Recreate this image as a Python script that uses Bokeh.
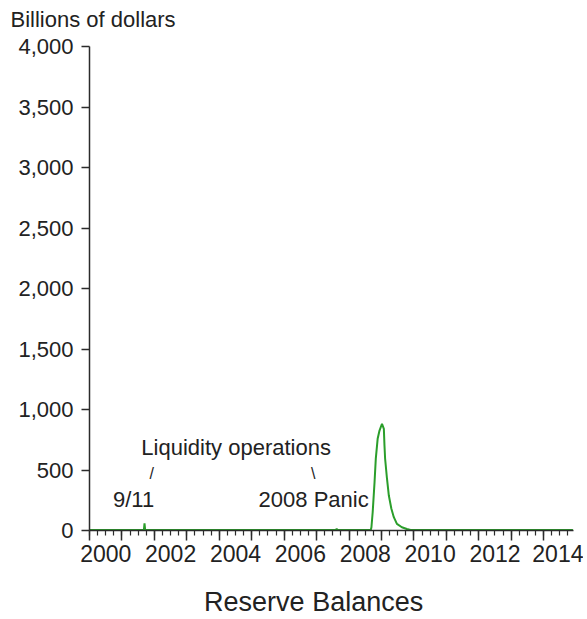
import json
import pandas as pd
from bokeh.plotting import figure
from bokeh.models import (FixedTicker, NumeralTickFormatter, LinearAxis,
                          Range1d, CustomJSTickFormatter, ColumnDataSource)
from bokeh.core.properties import value
from bokeh.embed import file_html
from bokeh.resources import INLINE

# ---- data ----
dates = ["2000-01-05", "2001-09-05", "2001-09-12", "2001-09-19", "2001-09-26",
         "2007-08-08", "2007-08-15", "2007-08-22",
         "2008-09-03", "2008-09-10", "2008-09-24", "2008-10-15", "2008-10-29",
         "2008-11-19", "2008-12-10", "2009-01-07", "2009-01-28", "2009-02-04",
         "2009-02-11", "2009-03-04", "2009-03-25", "2009-04-22", "2009-05-20",
         "2009-06-24", "2009-08-19", "2009-10-14", "2009-11-25", "2014-11-26"]
values = [5, 5, 60, 8, 5,
          5, 15, 5,
          6, 27, 151, 399, 592,
          758, 826, 882, 840, 702,
          595, 430, 289, 182, 110,
          55, 27, 12, 5, 5]

year_ticks = list(range(2000, 2016))
label_years = list(range(2000, 2015, 2))
y_ticks = list(range(0, 4001, 500))

ann_text = ["Liquidity operations", "9/11", "2008 Panic"]
ann_x = [2004.52, 2001.36, 2006.91]
ann_y = [686, 256, 256]
slash_text = ["/", "\\"]
slash_x = [2001.92, 2006.90]
slash_y = [471, 471]

y_title = "Billions of dollars"
x_title = "Reserve Balances"
x_title_at = 2006.91

TEXT = "#222222"
AXIS = "#2b2b2b"
FONT = "Liberation Sans"

dt = pd.to_datetime(dates)
xdec = dt.year + (dt.dayofyear - 1) / (365 + dt.is_leap_year.astype(int))

# the frame reaches a little above 4,000 so the heading sits close to the axis top
p = figure(width=583, height=619,
           x_range=Range1d(2000, 2014.92), y_range=Range1d(0, 4124),
           output_backend="svg", toolbar_location=None,
           min_border_left=89, min_border_right=10,
           min_border_top=31, min_border_bottom=89)
p.outline_line_color = None
p.grid.visible = False
p.background_fill_color = "white"
p.border_fill_color = "white"

p.line(x=list(xdec), y=values, line_color="#2b9e2b", line_width=2)

# y axis
ya = p.yaxis[0]
ya.bounds = (0, 4000)
ya.ticker = FixedTicker(ticks=y_ticks, minor_ticks=[])
ya.formatter = NumeralTickFormatter(format="0,0")
ya.major_tick_out = 8
ya.major_tick_in = 0
ya.minor_tick_line_color = None
ya.major_label_standoff = 8
ya.major_label_text_font_size = "22px"
ya.major_label_text_font = FONT
ya.major_label_text_color = TEXT
ya.axis_line_color = AXIS
ya.axis_line_width = 1.5
ya.major_tick_line_color = AXIS
ya.major_tick_line_width = 1.5

# x axis: tick marks only
xa = p.xaxis[0]
quarters = [y + q / 4 for y in range(2000, 2015) for q in range(4)]
xa.ticker = FixedTicker(ticks=year_ticks, minor_ticks=quarters)
xa.formatter = CustomJSTickFormatter(code="return '';")
xa.major_tick_out = 10
xa.major_tick_in = 0
xa.minor_tick_out = 5
xa.minor_tick_in = 0
xa.major_label_standoff = 0
xa.axis_line_color = AXIS
xa.axis_line_width = 1.5
xa.major_tick_line_color = AXIS
xa.major_tick_line_width = 1.5
xa.minor_tick_line_color = AXIS
xa.minor_tick_line_width = 1.2

# x axis: year labels centred in each year
xl = LinearAxis(ticker=FixedTicker(ticks=[y + 0.5 for y in label_years], minor_ticks=[]),
                formatter=CustomJSTickFormatter(code="return Math.floor(tick).toString();"))
xl.axis_line_color = None
xl.major_tick_line_color = None
xl.minor_tick_line_color = None
xl.major_tick_out = 0
xl.major_tick_in = 0
xl.major_label_standoff = 4
xl.major_label_text_font_size = "23px"
xl.major_label_text_font = FONT
xl.major_label_text_color = TEXT
p.add_layout(xl, "below")

# x title, placed where the reference centres it
xt = LinearAxis(ticker=FixedTicker(ticks=[x_title_at], minor_ticks=[]),
                formatter=CustomJSTickFormatter(code="return %s;" % json.dumps(x_title)))
xt.axis_line_color = None
xt.major_tick_line_color = None
xt.minor_tick_line_color = None
xt.major_tick_out = 0
xt.major_tick_in = 0
xt.major_label_standoff = 22
xt.major_label_text_font_size = "27px"
xt.major_label_text_font = FONT
xt.major_label_text_color = TEXT
p.add_layout(xt, "below")

# heading
p.title.text = y_title
p.title.align = "left"
p.title.offset = -79
p.title.standoff = 0
p.title.text_font = FONT
p.title.text_font_size = "22px"
p.title.text_font_style = "normal"
p.title.text_color = TEXT

# annotations
src = ColumnDataSource(dict(x=ann_x, y=ann_y, t=ann_text))
p.text(x="x", y="y", text="t", source=src, text_align="center",
       text_baseline="alphabetic", text_font=value(FONT),
       text_font_size="22px", text_color=TEXT)
src2 = ColumnDataSource(dict(x=slash_x, y=slash_y, t=slash_text))
p.text(x="x", y="y", text="t", source=src2, text_align="center",
       text_baseline="alphabetic", text_font=value(FONT),
       text_font_size="16px", text_color=TEXT)

open("out.html", "w").write(file_html(p, INLINE))
